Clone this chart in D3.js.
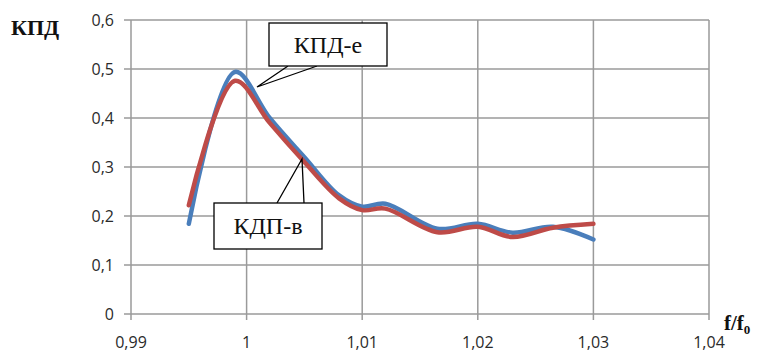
<!DOCTYPE html>
<html><head><meta charset="utf-8">
<script src="https://cdn.jsdelivr.net/npm/d3@7"></script>
<style>html,body{margin:0;padding:0;background:#fff;}svg{display:block;}</style>
</head><body>
<script>
const xValues = [0.995, 0.999, 1.002, 1.005, 1.008, 1.01, 1.012, 1.0165, 1.02, 1.023, 1.0265, 1.03];
const seriesE = [0.184, 0.494, 0.400, 0.320, 0.242, 0.219, 0.225, 0.174, 0.184, 0.166, 0.178, 0.152]; // КПД-е (blue)
const seriesV = [0.222, 0.476, 0.390, 0.310, 0.236, 0.212, 0.215, 0.167, 0.178, 0.157, 0.176, 0.184]; // КДП-в (red)
const xTicks = [0.99, 1, 1.01, 1.02, 1.03, 1.04];
const yTicks = [0, 0.1, 0.2, 0.3, 0.4, 0.5, 0.6];
const fmt = v => String(v).replace('.', ',');

const W = 762, H = 354;
const svg = d3.select('body').append('svg').attr('width', W).attr('height', H);
const x = d3.scaleLinear().domain([0.99, 1.04]).range([131, 709]);
const y = d3.scaleLinear().domain([0, 0.6]).range([314, 20]);

// grid
svg.append('g').selectAll('line').data(yTicks).join('line')
  .attr('x1', 124).attr('x2', x(1.04)).attr('y1', d => y(d)).attr('y2', d => y(d))
  .attr('stroke', '#9a9a9a').attr('stroke-width', 1.5);
svg.append('g').selectAll('line').data(xTicks).join('line')
  .attr('x1', d => x(d)).attr('x2', d => x(d)).attr('y1', y(0.6)).attr('y2', y(0) + 6)
  .attr('stroke', '#9a9a9a').attr('stroke-width', 1.5);

// tick labels
svg.append('g').selectAll('text').data(yTicks).join('text')
  .attr('x', 114).attr('y', d => y(d)).attr('dy', '0.35em')
  .attr('text-anchor', 'end').attr('font-family', 'Open Sans, sans-serif').attr('font-size', 16)
  .attr('fill', '#2a2a2a').text(fmt);
svg.append('g').selectAll('text').data(xTicks).join('text')
  .attr('x', d => x(d)).attr('y', 348)
  .attr('text-anchor', 'middle').attr('font-family', 'Open Sans, sans-serif').attr('font-size', 16)
  .attr('fill', '#2a2a2a').text(fmt);

// axis titles
svg.append('text').attr('x', 11).attr('y', 35).attr('font-family', 'Liberation Serif, Times New Roman, serif')
  .attr('font-weight', 'bold').attr('font-size', 22).attr('fill', '#111').text('КПД');
const ft = svg.append('text').attr('x', 724).attr('y', 330).attr('font-family', 'Liberation Serif, Times New Roman, serif')
  .attr('font-weight', 'bold').attr('font-size', 21).attr('fill', '#111');
ft.append('tspan').text('f/f');
ft.append('tspan').attr('font-size', 13).attr('dy', 4).text('0');

// lines
const line = d3.line().x((d, i) => x(xValues[i])).y(d => y(d)).curve(d3.curveCatmullRom.alpha(0.5));
svg.append('path').datum(seriesE).attr('d', line).attr('fill', 'none')
  .attr('stroke', '#4a7ebb').attr('stroke-width', 4.5).attr('stroke-linecap', 'round');
svg.append('path').datum(seriesV).attr('d', line).attr('fill', 'none')
  .attr('stroke', '#be4b48').attr('stroke-width', 4.5).attr('stroke-linecap', 'round');

// callouts
function callout(bx, by, bw, bh, pts, label) {
  svg.append('polyline').attr('points', pts.map(p => p.join(',')).join(' '))
    .attr('fill', 'none').attr('stroke', '#000').attr('stroke-width', 1.3);
  svg.append('rect').attr('x', bx).attr('y', by).attr('width', bw).attr('height', bh)
    .attr('fill', '#fff').attr('stroke', '#000').attr('stroke-width', 1.3);
  svg.append('text').attr('x', bx + bw / 2).attr('y', by + bh / 2).attr('dy', '0.35em')
    .attr('text-anchor', 'middle').attr('font-family', 'Liberation Serif, Times New Roman, serif')
    .attr('font-size', 24).attr('fill', '#111').text(label);
}
callout(269, 23, 118, 43, [[288, 66], [257, 87], [317, 66]], 'КПД-е');
callout(214, 203, 108, 46, [[277, 203], [302, 159], [304, 203]], 'КДП-в');
</script>
</body></html>
